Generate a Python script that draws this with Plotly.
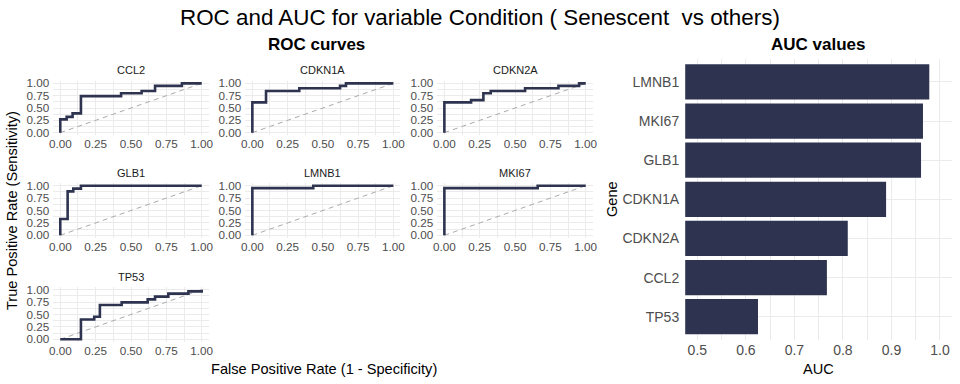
import plotly.graph_objects as go

W, H = 960, 384

# ---------------- data ----------------
roc_genes = ["CCL2", "CDKN1A", "CDKN2A", "GLB1", "LMNB1", "MKI67", "TP53"]

ccl2_fpr = [0.0, 0.0, 0.045, 0.087, 0.146, 0.43, 0.575, 0.67, 0.86, 1.0]
ccl2_tpr = [0.0, 0.27, 0.32, 0.39, 0.74, 0.80, 0.845, 0.95, 1.0, 1.0]

cdkn1a_fpr = [0.0, 0.0, 0.097, 0.333, 0.622, 0.664, 1.0]
cdkn1a_tpr = [0.0, 0.615, 0.845, 0.90, 0.95, 1.0, 1.0]

cdkn2a_fpr = [0.0, 0.0, 0.189, 0.276, 0.328, 0.571, 0.807, 0.953, 1.0]
cdkn2a_tpr = [0.0, 0.615, 0.66, 0.80, 0.845, 0.90, 0.95, 1.0, 1.0]

glb1_fpr = [0.0, 0.0, 0.052, 0.092, 0.146, 1.0]
glb1_tpr = [0.0, 0.33, 0.886, 0.94, 1.0, 1.0]

lmnb1_fpr = [0.0, 0.0, 0.432, 1.0]
lmnb1_tpr = [0.0, 0.95, 1.0, 1.0]

mki67_fpr = [0.0, 0.0, 0.66, 1.0]
mki67_tpr = [0.0, 0.95, 1.0, 1.0]

tp53_fpr = [0.0, 0.146, 0.24, 0.28, 0.434, 0.618, 0.67, 0.764, 0.906, 1.0]
tp53_tpr = [0.0, 0.40, 0.456, 0.69, 0.745, 0.805, 0.86, 0.92, 0.966, 1.0]

roc_fpr = [ccl2_fpr, cdkn1a_fpr, cdkn2a_fpr, glb1_fpr, lmnb1_fpr, mki67_fpr, tp53_fpr]
roc_tpr = [ccl2_tpr, cdkn1a_tpr, cdkn2a_tpr, glb1_tpr, lmnb1_tpr, mki67_tpr, tp53_tpr]

diag_vals = [0.0, 1.0]
roc_ticks = [0.0, 0.25, 0.5, 0.75, 1.0]
roc_ticklabels = ["0.00", "0.25", "0.50", "0.75", "1.00"]
roc_minor = [0.125, 0.375, 0.625, 0.875]

auc_genes = ["TP53", "CCL2", "CDKN2A", "CDKN1A", "GLB1", "MKI67", "LMNB1"]
auc_values = [0.625, 0.767, 0.810, 0.889, 0.961, 0.965, 0.978]
auc_ticks = [0.5, 0.6, 0.7, 0.8, 0.9, 1.0]
auc_ticklabels = ["0.5", "0.6", "0.7", "0.8", "0.9", "1.0"]
auc_minor = [0.55, 0.65, 0.75, 0.85, 0.95]

# ---------------- styling ----------------
NAVY = "#2E3350"
GRID = "#EBEBEB"
TICK = "#4D4D4D"
FONT = "Liberation Sans, Arial, Helvetica, sans-serif"

col_px = [(53.2, 208.8), (245.3, 400.4), (437.3, 592.8)]
row_px = [(80.9, 135.1), (183.2, 237.8), (287.2, 341.8)]


def xd(a, b):
    return [a / W, b / W]


def yd(a, b):
    return [1 - b / H, 1 - a / H]


fig = go.Figure()
layout = dict(
    width=W, height=H,
    margin=dict(l=0, r=0, t=0, b=0, autoexpand=False),
    paper_bgcolor="white", plot_bgcolor="white",
    showlegend=False,
    font=dict(family=FONT, color="black"),
)
annotations = []

for i, g in enumerate(roc_genes):
    k = i + 1
    r, c = divmod(i, 3)
    xa = "x" if k == 1 else f"x{k}"
    ya = "y" if k == 1 else f"y{k}"
    fig.add_trace(go.Scatter(x=diag_vals, y=diag_vals, mode="lines",
                             line=dict(color="#ABABAB", width=1, dash="5px,4px"),
                             xaxis=xa, yaxis=ya, hoverinfo="skip"))
    fig.add_trace(go.Scatter(x=roc_fpr[i], y=roc_tpr[i], mode="lines",
                             line=dict(color=NAVY, width=2.6, shape="hv"),
                             xaxis=xa, yaxis=ya, name=g))
    common = dict(
        range=[-0.05, 1.05], tickvals=roc_ticks, ticktext=roc_ticklabels,
        showgrid=True, gridcolor=GRID, gridwidth=1,
        minor=dict(tickvals=roc_minor, showgrid=True, gridcolor=GRID, gridwidth=0.5),
        zeroline=False, showline=False, ticks="", automargin=False,
        tickfont=dict(size=11.7, color=TICK, family=FONT), fixedrange=True,
    )
    layout[f"xaxis{k}" if k > 1 else "xaxis"] = dict(common, domain=xd(*col_px[c]),
                                                      anchor=ya)
    layout[f"yaxis{k}" if k > 1 else "yaxis"] = dict(common, domain=yd(*row_px[r]),
                                                      anchor=xa, ticklabelstandoff=3)
    annotations.append(dict(text=g, x=(col_px[c][0] + col_px[c][1]) / 2 / W,
                            y=1 - (row_px[r][0] - 10.5) / H, xref="paper", yref="paper",
                            showarrow=False, xanchor="center", yanchor="middle",
                            font=dict(size=11, color="#1A1A1A")))

# AUC bar chart
fig.add_trace(go.Bar(x=auc_values, y=auc_genes, orientation="h", width=0.9,
                     marker=dict(color=NAVY, line=dict(width=0)),
                     xaxis="x8", yaxis="y8"))
layout["xaxis8"] = dict(domain=xd(685.2, 952.1), range=[0.475, 1.025], anchor="y8",
                        tickvals=auc_ticks, ticktext=auc_ticklabels,
                        showgrid=True, gridcolor=GRID, gridwidth=1,
                        minor=dict(tickvals=auc_minor, showgrid=True, gridcolor=GRID,
                                   gridwidth=0.5),
                        zeroline=False, showline=False, ticks="", automargin=False,
                        tickfont=dict(size=14, color=TICK, family=FONT))
layout["yaxis8"] = dict(domain=yd(58.5, 340.2), type="category",
                        categoryorder="array", categoryarray=auc_genes,
                        range=[-0.6, 6.6], anchor="x8", ticklabelstandoff=5,
                        showgrid=True, gridcolor=GRID, gridwidth=1,
                        zeroline=False, showline=False, ticks="", automargin=False,
                        tickfont=dict(size=14, color=TICK, family=FONT))


def ann(text, xpx, ypx, size, bold=False, angle=0, color="black"):
    annotations.append(dict(text=f"<b>{text}</b>" if bold else text,
                            x=xpx / W, y=1 - ypx / H, xref="paper", yref="paper",
                            showarrow=False, xanchor="center", yanchor="middle",
                            textangle=angle, font=dict(size=size, color=color, family=FONT)))


ann("ROC and AUC for variable Condition ( Senescent \u00a0vs others)", 480, 17, 22.4)
ann("ROC curves", 316, 44, 17, bold=True)
ann("AUC values", 818, 44, 17, bold=True)
ann("True Positive Rate (Sensitivity)", 12, 211, 14.6, angle=-90)
ann("False Positive Rate (1 - Specificity)", 324, 369, 14.6)
ann("Gene", 612, 199, 14.6, angle=-90)
ann("AUC", 818, 369, 14.6)

layout["annotations"] = annotations
fig.update_layout(**layout)
fig.write_html("out.html", config={"displayModeBar": False},
               post_script="document.body.style.margin='0';document.body.style.overflow='hidden';")
